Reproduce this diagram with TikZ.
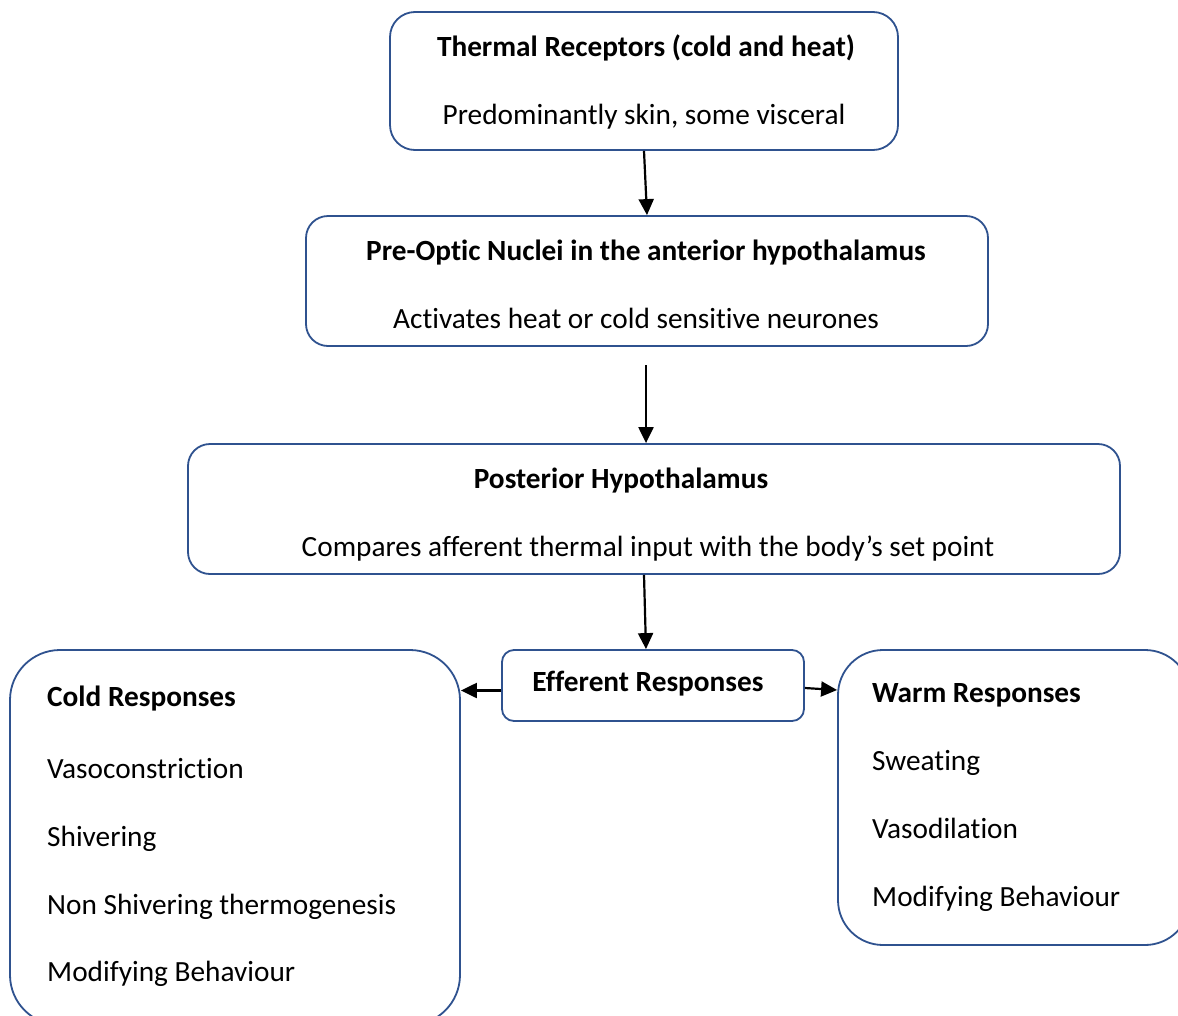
\documentclass[tikz,border=0pt]{standalone}
\usepackage{fontspec}
\setmainfont{Carlito}[Ligatures=NoCommon]
\usetikzlibrary{arrows.meta,calc}
\definecolor{bord}{RGB}{47,82,143}
\tikzset{
 box/.style={draw=bord, line width=1.8pt, rectangle, inner sep=0pt},
 txt/.style={font=\fontsize{29.3}{34}\selectfont, inner sep=0pt, anchor=base},
 btxt/.style={txt, font=\fontsize{29.3}{34}\selectfont\bfseries},
 ltxt/.style={txt, anchor=base west},
 lbtxt/.style={btxt, anchor=base west},
 arr/.style={-{Triangle[length=16pt,width=15pt]}, line width=2.2pt, black}
}
\begin{document}
\begin{tikzpicture}[x=1pt,y=-1pt]
\clip (0,0) rectangle (1178,1015);
\fill[white] (0,0) rectangle (1178,1015);
% boxes
\node[box, rounded corners=25, minimum width=508, minimum height=138] (b1) at (644,81) {};
\node[box, rounded corners=22, minimum width=682, minimum height=130] (b2) at (647,281) {};
\node[box, rounded corners=22, minimum width=932, minimum height=130] (b3) at (654,509) {};
\node[box, rounded corners=12, minimum width=302, minimum height=71] (eff) at (653,685.5) {};
\node[box, rounded corners=50, minimum width=450, minimum height=375] (cold) at (235,837.5) {};
\node[box, rounded corners=45, minimum width=352, minimum height=295] (warm) at (1014,797.5) {};
% texts
\node[btxt] (t1a) at (646,56) {Thermal Receptors (cold and heat)};
\node[txt] (t1b) at (644,124) {Predominantly skin, some visceral};
\node[btxt] (t2a) at (646,260) {Pre-Optic Nuclei in the anterior hypothalamus};
\node[txt] (t2b) at (636,328) {Activates heat or cold sensitive neurones};
\node[btxt] (t3a) at (621,488) {Posterior Hypothalamus};
\node[txt] (t3b) at (648,556) {Compares afferent thermal input with the body’s set point};
\node[btxt] (teff) at (648,691) {Efferent Responses};
\node[lbtxt] (c0) at (47,706) {Cold Responses};
\node[ltxt] (c1) at (47,778) {Vasoconstriction};
\node[ltxt] (c2) at (47,846) {Shivering};
\node[ltxt] (c3) at (47,914) {Non Shivering thermogenesis};
\node[ltxt] (c4) at (47,981) {Modifying Behaviour};
\node[lbtxt] (w0) at (872,702) {Warm Responses};
\node[ltxt] (w1) at (872,770) {Sweating};
\node[ltxt] (w2) at (872,838) {Vasodilation};
\node[ltxt] (w3) at (872,906) {Modifying Behaviour};
% connector end points
\coordinate (a2s) at (646,365);
\coordinate (a3s) at ($(b3.south)+(-10,0)$);
\coordinate (a3e) at ($(eff.north)+(-7,0)$);
\coordinate (als) at ($(eff.west)+(0,5)$);
\coordinate (ale) at (cold.east |- als);
\coordinate (ars) at ($(eff.east)+(0,2.5)$);
\coordinate (are0) at ($(eff.east)+(0,4.5)$);
\coordinate (are) at (warm.west |- are0);
% connectors
\draw[arr] (b1.south) -- (b2.north);
\draw[arr] (a2s) -- (a2s |- b3.north);
\draw[arr] (a3s) -- (a3e);
\draw[arr] (als) -- (ale);
\draw[arr] (ars) -- (are);
\end{tikzpicture}
\end{document}
